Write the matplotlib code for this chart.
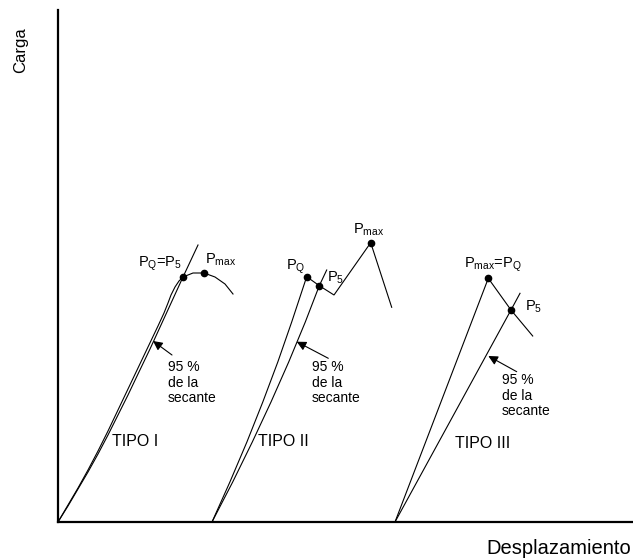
import numpy as np
import matplotlib.pyplot as plt

plt.rcParams['font.family'] = ['Liberation Sans', 'DejaVu Sans']
plt.rcParams['mathtext.fontset'] = 'custom'
plt.rcParams['mathtext.rm'] = 'Liberation Sans'

# load-displacement curves and 95% secant lines (arbitrary units)
curve1_x = [0, 10, 20, 30, 40, 50, 60, 70, 80, 90, 100, 106, 110, 113, 117, 121, 125,
            135, 146, 157, 167, 175]
curve1_y = [0, 17, 34, 52, 71, 91, 112, 133, 154, 175, 196, 209, 219, 227, 235, 241, 245,
            249, 249, 245, 238, 228]
sec1_x = [0, 10, 20, 30, 40, 50, 60, 70, 80, 92, 125, 140]
sec1_y = [0, 16, 33, 50, 68, 87, 107, 127, 148, 173, 245, 277]

curve2_x = [154, 171.9, 188.9, 204.8, 219.8, 233.7, 248.7, 261.3, 276, 312.7, 333.7]
curve2_y = [0, 40, 80, 120, 160, 200, 245.3, 236.3, 227, 279.3, 214.7]
sec2_x = [154, 174.7, 194.3, 213, 230.7, 247.3, 261.3, 268.7]
sec2_y = [0, 40, 80, 120, 160, 200, 236.3, 252]

curve3_x = [337, 430.3, 453, 474.7]
curve3_y = [0, 243.7, 212, 186]
sec3_x = [337, 453, 462]
sec3_y = [0, 212, 228.7]

# marked points
pts_x = [125, 146, 248.7, 261.3, 312.7, 430.3, 453]
pts_y = [245, 249, 245.3, 236.3, 279.3, 243.7, 212]

fig = plt.figure(figsize=(6.33, 5.6), dpi=100)
ax = fig.add_axes([58/633, 38/560, 575/633, 512/560])
ax.set_xlim(0, 575)
ax.set_ylim(0, 512)
for s in ['top', 'right']:
    ax.spines[s].set_visible(False)
for s in ['left', 'bottom']:
    ax.spines[s].set_linewidth(1.6)
ax.set_xticks([])
ax.set_yticks([])

lw = 0.8
for cx, cy in [(curve1_x, curve1_y), (sec1_x, sec1_y), (curve2_x, curve2_y),
               (sec2_x, sec2_y), (curve3_x, curve3_y), (sec3_x, sec3_y)]:
    ax.plot(cx, cy, color='k', lw=lw, solid_joinstyle='miter', clip_on=False)

ax.plot(pts_x, pts_y, 'o', color='k', ms=4.5, ls='none', clip_on=False)

# arrows to the secant lines and their notes
arrows = [((95, 181), (114, 167), (110, 162)),
          ((238.7, 180.3), (270.3, 163.7), (254, 162)),
          ((430.3, 166), (458.7, 150.3), (444, 149))]
for tip, tail, txt in arrows:
    ax.annotate('', xy=tip, xytext=tail,
                arrowprops=dict(arrowstyle='-|>', color='k', lw=0.8,
                                mutation_scale=14, shrinkA=0, shrinkB=0))
    ax.text(txt[0], txt[1], '95 %\nde la\nsecante', fontsize=10,
            ha='left', va='top', linespacing=1.15)

ax.text(54, 80, 'TIPO I', fontsize=11.5, ha='left', va='center')
ax.text(200, 80, 'TIPO II', fontsize=11.5, ha='left', va='center')
ax.text(397, 79, 'TIPO III', fontsize=11.5, ha='left', va='center')

lab = dict(fontsize=10.5, va='bottom')
ax.text(124, 249, r'$\mathrm{P_Q}$=$\mathrm{P_5}$', ha='right', **lab)
ax.text(147, 254, r'$\mathrm{P_{max}}$', ha='left', **lab)
ax.text(247, 246, r'$\mathrm{P_Q}$', ha='right', **lab)
ax.text(269, 236, r'$\mathrm{P_5}$', ha='left', **lab)
ax.text(311, 284, r'$\mathrm{P_{max}}$', ha='center', **lab)
ax.text(435, 248, r'$\mathrm{P_{max}}$=$\mathrm{P_Q}$', ha='center', **lab)
ax.text(467, 207, r'$\mathrm{P_5}$', ha='left', **lab)

fig.text(21/633, 1 - 50/560, 'Carga', rotation=90, fontsize=12,
         ha='center', va='center')
fig.text(486/633, 1 - 549/560, 'Desplazamiento', fontsize=14.5,
         ha='left', va='center')

fig.savefig('out.png', dpi=100)
